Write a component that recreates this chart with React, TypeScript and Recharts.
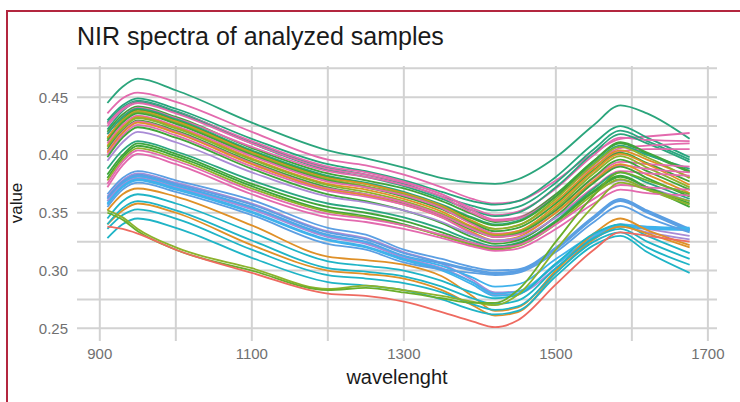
import React from 'react';
import { LineChart, Line, XAxis, YAxis, CartesianGrid } from 'recharts';

const wavelengths = [910, 930, 950, 1000, 1100, 1200, 1250, 1300, 1350, 1390, 1420, 1450, 1500, 1550, 1585, 1620, 1676];

const xTicks = [900, 1100, 1300, 1500, 1700];
const xGrid = [900, 1000, 1100, 1200, 1300, 1500, 1600, 1700];
const yTicks = [0.25, 0.3, 0.35, 0.4, 0.45];
const yGrid = [0.25, 0.275, 0.3, 0.325, 0.35, 0.375, 0.4, 0.425, 0.45, 0.475];

const upperSamples: number[][] = [
  [0.445, 0.459, 0.466, 0.456, 0.428, 0.404, 0.397, 0.389, 0.380, 0.376, 0.375, 0.379, 0.398, 0.426, 0.443, 0.436, 0.414],
  [0.436, 0.449, 0.454, 0.446, 0.420, 0.396, 0.391, 0.383, 0.372, 0.362, 0.358, 0.360, 0.378, 0.402, 0.414, 0.416, 0.419],
  [0.430, 0.443, 0.449, 0.440, 0.414, 0.392, 0.386, 0.378, 0.368, 0.360, 0.357, 0.360, 0.381, 0.410, 0.425, 0.415, 0.398],
  [0.428, 0.441, 0.447, 0.438, 0.411, 0.389, 0.383, 0.375, 0.364, 0.356, 0.352, 0.355, 0.376, 0.405, 0.421, 0.412, 0.396],
  [0.427, 0.440, 0.446, 0.437, 0.412, 0.390, 0.385, 0.377, 0.366, 0.354, 0.348, 0.351, 0.371, 0.400, 0.415, 0.413, 0.412],
  [0.422, 0.438, 0.446, 0.437, 0.410, 0.387, 0.381, 0.373, 0.362, 0.352, 0.347, 0.350, 0.372, 0.402, 0.418, 0.410, 0.394],
  [0.425, 0.439, 0.445, 0.436, 0.410, 0.388, 0.383, 0.376, 0.366, 0.352, 0.344, 0.346, 0.366, 0.392, 0.406, 0.408, 0.410],
  [0.420, 0.435, 0.442, 0.433, 0.406, 0.384, 0.378, 0.371, 0.360, 0.349, 0.342, 0.345, 0.366, 0.395, 0.410, 0.401, 0.385],
  [0.418, 0.433, 0.441, 0.432, 0.407, 0.386, 0.381, 0.374, 0.364, 0.350, 0.343, 0.345, 0.364, 0.390, 0.403, 0.405, 0.405],
  [0.418, 0.433, 0.440, 0.431, 0.404, 0.382, 0.376, 0.368, 0.357, 0.346, 0.340, 0.343, 0.364, 0.393, 0.408, 0.400, 0.388],
  [0.414, 0.431, 0.439, 0.430, 0.403, 0.381, 0.375, 0.367, 0.356, 0.345, 0.339, 0.342, 0.364, 0.395, 0.411, 0.402, 0.386],
  [0.415, 0.430, 0.438, 0.429, 0.402, 0.380, 0.375, 0.367, 0.356, 0.343, 0.336, 0.339, 0.360, 0.389, 0.404, 0.396, 0.381],
  [0.412, 0.429, 0.437, 0.428, 0.401, 0.379, 0.373, 0.366, 0.355, 0.342, 0.336, 0.339, 0.362, 0.392, 0.407, 0.398, 0.380],
  [0.412, 0.428, 0.436, 0.427, 0.400, 0.378, 0.372, 0.364, 0.353, 0.341, 0.334, 0.337, 0.358, 0.387, 0.402, 0.393, 0.377],
  [0.410, 0.426, 0.434, 0.425, 0.399, 0.377, 0.372, 0.365, 0.354, 0.340, 0.332, 0.334, 0.353, 0.380, 0.394, 0.392, 0.390],
  [0.408, 0.424, 0.433, 0.424, 0.397, 0.375, 0.370, 0.362, 0.351, 0.338, 0.331, 0.334, 0.356, 0.386, 0.401, 0.392, 0.374],
  [0.407, 0.423, 0.432, 0.423, 0.396, 0.374, 0.368, 0.360, 0.349, 0.337, 0.330, 0.333, 0.354, 0.384, 0.399, 0.389, 0.372],
  [0.405, 0.421, 0.430, 0.421, 0.394, 0.372, 0.366, 0.358, 0.347, 0.335, 0.329, 0.332, 0.352, 0.381, 0.396, 0.386, 0.370],
  [0.403, 0.420, 0.429, 0.420, 0.393, 0.371, 0.366, 0.359, 0.348, 0.336, 0.329, 0.331, 0.350, 0.377, 0.391, 0.388, 0.385],
  [0.402, 0.419, 0.428, 0.419, 0.392, 0.370, 0.365, 0.357, 0.346, 0.333, 0.326, 0.329, 0.350, 0.378, 0.392, 0.383, 0.367],
  [0.400, 0.417, 0.426, 0.417, 0.390, 0.369, 0.364, 0.357, 0.346, 0.332, 0.325, 0.327, 0.346, 0.372, 0.386, 0.384, 0.382],
  [0.398, 0.415, 0.424, 0.415, 0.388, 0.366, 0.360, 0.352, 0.341, 0.329, 0.323, 0.326, 0.347, 0.376, 0.390, 0.380, 0.364],
  [0.395, 0.411, 0.420, 0.411, 0.385, 0.364, 0.359, 0.352, 0.342, 0.331, 0.326, 0.328, 0.346, 0.368, 0.378, 0.372, 0.360],
  [0.388, 0.404, 0.412, 0.403, 0.378, 0.358, 0.353, 0.346, 0.336, 0.326, 0.321, 0.324, 0.343, 0.371, 0.385, 0.376, 0.362],
  [0.383, 0.400, 0.410, 0.401, 0.375, 0.355, 0.350, 0.343, 0.333, 0.324, 0.320, 0.323, 0.342, 0.368, 0.381, 0.372, 0.358],
  [0.380, 0.398, 0.408, 0.399, 0.373, 0.352, 0.347, 0.340, 0.330, 0.323, 0.319, 0.322, 0.342, 0.369, 0.382, 0.372, 0.355],
  [0.378, 0.396, 0.406, 0.397, 0.371, 0.351, 0.346, 0.339, 0.330, 0.322, 0.318, 0.321, 0.340, 0.366, 0.379, 0.370, 0.357],
  [0.375, 0.394, 0.404, 0.395, 0.369, 0.349, 0.345, 0.339, 0.331, 0.324, 0.320, 0.322, 0.340, 0.362, 0.374, 0.372, 0.370],
  [0.372, 0.391, 0.401, 0.392, 0.366, 0.346, 0.342, 0.336, 0.328, 0.321, 0.317, 0.319, 0.336, 0.358, 0.370, 0.367, 0.365],
];
const upperColors = [
  '#2ba57c', '#e36aae', '#26a67d', '#2aa780', '#e36aae', '#2ba57c', '#e36aae', '#3fa53a', '#e36aae', '#2aa780',
  '#3fa53a', '#df9027', '#8cb22c', '#3fa53a', '#e36aae', '#df9027', '#8cb22c', '#3fa53a', '#e36aae', '#df9027',
  '#e36aae', '#3fa53a', '#a98bd6', '#2aa780', '#3fa53a', '#3fa53a', '#8cb22c', '#e36aae', '#e36aae',
];

const blueSamples: number[][] = [
  [0.366, 0.380, 0.386, 0.378, 0.361, 0.337, 0.331, 0.318, 0.310, 0.303, 0.300, 0.301, 0.320, 0.347, 0.362, 0.352, 0.336],
  [0.364, 0.378, 0.384, 0.376, 0.358, 0.334, 0.328, 0.316, 0.306, 0.292, 0.281, 0.282, 0.305, 0.330, 0.340, 0.336, 0.330],
  [0.363, 0.377, 0.383, 0.375, 0.357, 0.333, 0.327, 0.315, 0.307, 0.301, 0.298, 0.300, 0.319, 0.346, 0.361, 0.351, 0.335],
  [0.362, 0.376, 0.382, 0.374, 0.355, 0.331, 0.325, 0.313, 0.306, 0.300, 0.297, 0.299, 0.318, 0.345, 0.360, 0.350, 0.334],
  [0.360, 0.375, 0.381, 0.373, 0.354, 0.330, 0.324, 0.312, 0.304, 0.294, 0.286, 0.288, 0.310, 0.331, 0.340, 0.338, 0.337],
  [0.360, 0.374, 0.380, 0.372, 0.353, 0.329, 0.323, 0.311, 0.302, 0.290, 0.279, 0.280, 0.302, 0.327, 0.338, 0.333, 0.327],
  [0.358, 0.373, 0.379, 0.371, 0.351, 0.327, 0.321, 0.310, 0.301, 0.290, 0.280, 0.282, 0.305, 0.329, 0.339, 0.337, 0.336],
  [0.357, 0.372, 0.378, 0.370, 0.350, 0.326, 0.320, 0.309, 0.300, 0.288, 0.278, 0.280, 0.306, 0.328, 0.338, 0.336, 0.335],
  [0.355, 0.370, 0.376, 0.368, 0.348, 0.323, 0.318, 0.307, 0.301, 0.298, 0.296, 0.298, 0.316, 0.342, 0.356, 0.346, 0.333],
];
const blueColors = ['#5b9fe3', '#a98bd6', '#5b9fe3', '#5b9fe3', '#3fb2ec', '#a98bd6', '#3fb2ec', '#3fb2ec', '#5b9fe3'];

const lowerSamples: number[][] = [
  [0.352, 0.366, 0.371, 0.364, 0.339, 0.312, 0.309, 0.305, 0.295, 0.278, 0.265, 0.268, 0.300, 0.332, 0.345, 0.335, 0.322],
  [0.345, 0.360, 0.366, 0.358, 0.333, 0.308, 0.304, 0.300, 0.291, 0.281, 0.276, 0.279, 0.306, 0.332, 0.340, 0.330, 0.315],
  [0.340, 0.352, 0.358, 0.350, 0.322, 0.300, 0.297, 0.293, 0.283, 0.270, 0.261, 0.264, 0.298, 0.327, 0.338, 0.332, 0.320],
  [0.340, 0.354, 0.360, 0.352, 0.326, 0.302, 0.299, 0.295, 0.286, 0.276, 0.271, 0.274, 0.302, 0.328, 0.336, 0.325, 0.310],
  [0.336, 0.348, 0.353, 0.345, 0.318, 0.296, 0.293, 0.289, 0.281, 0.271, 0.266, 0.269, 0.298, 0.325, 0.333, 0.320, 0.305],
  [0.328, 0.340, 0.345, 0.337, 0.311, 0.290, 0.287, 0.283, 0.275, 0.266, 0.262, 0.265, 0.295, 0.322, 0.330, 0.316, 0.298],
  [0.352, 0.346, 0.336, 0.320, 0.302, 0.284, 0.287, 0.283, 0.278, 0.273, 0.270, 0.279, 0.318, 0.356, 0.376, 0.370, 0.360],
  [0.350, 0.344, 0.334, 0.318, 0.300, 0.283, 0.285, 0.281, 0.276, 0.272, 0.272, 0.283, 0.325, 0.365, 0.385, 0.378, 0.366],
  [0.338, 0.336, 0.332, 0.318, 0.298, 0.280, 0.278, 0.273, 0.264, 0.256, 0.251, 0.257, 0.288, 0.318, 0.333, 0.330, 0.325],
];
const lowerColors = ['#df9027', '#1fb4c6', '#df9027', '#1fb4c6', '#1fb4c6', '#1fb4c6', '#8cb22c', '#6aae2a', '#ee6a60'];

const allSamples = [...upperSamples, ...blueSamples, ...lowerSamples];
const allColors = [...upperColors, ...blueColors, ...lowerColors];

const chartData = wavelengths.map((w, i) => {
  const row: Record<string, number> = { wavelength: w };
  allSamples.forEach((s, k) => {
    row[`s${k}`] = s[i];
  });
  return row;
});

const font = '"Liberation Sans", Arial, Helvetica, sans-serif';

export default function App() {
  return (
    <div style={{ position: 'absolute', left: 0, top: 0, width: 740, height: 402, overflow: 'hidden', background: '#fff', fontFamily: font }}>
      <div style={{ position: 'absolute', left: 6, top: 10, width: 800, height: 500, borderLeft: '2px solid #b3263f', borderTop: '2px solid #b3263f' }} />
      <div style={{ position: 'absolute', left: 77, top: 22, fontSize: 25, color: '#1a1a1a', whiteSpace: 'nowrap' }}>
        NIR spectra of analyzed samples
      </div>
      <div style={{ position: 'absolute', left: 0, top: 0 }}>
        <LineChart width={740} height={402} data={chartData} margin={{ top: 66, right: 23, bottom: 0, left: 0 }}>
          <CartesianGrid horizontalValues={yGrid} verticalValues={xGrid} stroke="#d2d2d2" strokeWidth={2} />
          <XAxis
            dataKey="wavelength"
            type="number"
            domain={[870, 1712]}
            ticks={xTicks}
            height={61}
            tickSize={0}
            tickMargin={7}
            axisLine={false}
            tickLine={false}
            tick={{ fontSize: 15, fill: '#707070', fontFamily: font }}
          />
          <YAxis
            type="number"
            domain={[0.239, 0.477]}
            ticks={yTicks}
            width={77}
            tickSize={0}
            tickMargin={9}
            axisLine={false}
            tickLine={false}
            tickFormatter={(v: number) => v.toFixed(2)}
            tick={{ fontSize: 15, fill: '#707070', fontFamily: font }}
          />
          {allSamples.map((_, k) => (
            <Line
              key={k}
              type="monotone"
              dataKey={`s${k}`}
              stroke={allColors[k]}
              strokeWidth={1.8}
              dot={false}
              isAnimationActive={false}
            />
          ))}
        </LineChart>
      </div>
      <div style={{ position: 'absolute', left: 297, width: 200, top: 366, textAlign: 'center', fontSize: 20, color: '#1a1a1a' }}>
        wavelenght
      </div>
      <div style={{ position: 'absolute', left: 17, top: 203, transform: 'translate(-50%, -50%) rotate(-90deg)', fontSize: 17, color: '#1a1a1a' }}>
        value
      </div>
    </div>
  );
}
